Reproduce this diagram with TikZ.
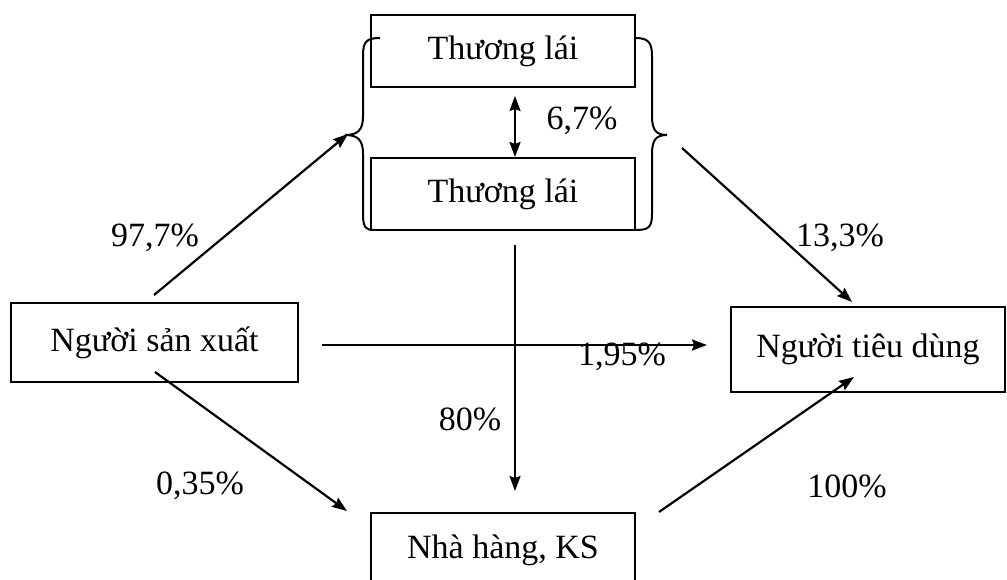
\documentclass[tikz,border=0pt]{standalone}
\usepackage{fontspec}
\setmainfont{Liberation Serif}
\usetikzlibrary{arrows.meta}
\begin{document}
\begin{tikzpicture}[x=1pt,y=-1pt,
  box/.style={draw,line width=2.2pt,inner sep=0pt},
  lbl/.style={inner sep=0pt},
  tip/.style={Stealth[length=15pt,width=11pt,inset=2pt]},
  arr/.style={line width=2.2pt,-{Stealth[length=15pt,width=11pt,inset=2pt]}},
  brc/.style={line width=2pt},
  every node/.style={font=\fontsize{34}{40}\selectfont}]
\useasboundingbox (0,0) rectangle (1007,580);
\begin{scope}
\clip (0,0) rectangle (1007,580);
\node[box,minimum width=287pt,minimum height=79pt] (sx) at (154.5,342.5) {Người sản xuất};
\node[box,minimum width=274pt,minimum height=85pt] (td) at (868,349.5) {Người tiêu dùng};
\node[box,minimum width=264pt,minimum height=72pt] (tl1) at (503,51) {Thương lái};
\node[box,minimum width=264pt,minimum height=72pt] (tl2) at (503,194) {Thương lái};
\node[box,minimum width=264pt,minimum height=74pt] (nh) at (503,550) {Nhà hàng, KS};
\end{scope}
% braces
\draw[brc] (380,38) .. controls (366,38) and (363,42) .. (363,56) -- (363,116)
  .. controls (363,130) and (358,135) .. (345,135)
  .. controls (358,135) and (363,140) .. (363,154) -- (363,214)
  .. controls (363,228) and (366,230) .. (374,230);
\draw[brc] (635,38) .. controls (648,38) and (652,42) .. (652,56) -- (652,116)
  .. controls (652,130) and (656,135) .. (667,135)
  .. controls (656,135) and (652,140) .. (652,154) -- (652,214)
  .. controls (652,228) and (648,230) .. (635,230);
\coordinate (lb) at (348,134);
\coordinate (rb) at (682,148);
% connectors
\coordinate (a1) at (154,295);
\draw[arr] (a1) -- (lb);
\coordinate (a2) at (852,302);
\draw[arr] (rb) -- (a2);
\coordinate (d1) at (515,96);
\coordinate (d2) at (515,157);
\draw[line width=2.2pt,{Stealth[length=15pt,width=11pt,inset=2pt]}-{Stealth[length=15pt,width=11pt,inset=2pt]}] (d1) -- (d2);
\coordinate (h1) at (322,345);
\coordinate (h2) at (707,345);
\draw[arr] (h1) -- (h2);
\coordinate (v1) at (515,245);
\coordinate (v2) at (515,491);
\draw[arr] (v1) -- (v2);
\coordinate (b1) at (155,372);
\coordinate (b2) at (347,511);
\draw[arr] (b1) -- (b2);
\coordinate (c1) at (659,512);
\coordinate (c2) at (854,377);
\draw[arr] (c1) -- (c2);
% labels
\node[lbl] (l1) at (155,238) {97,7\%};
\node[lbl] (l2) at (840,238) {13,3\%};
\node[lbl] (l3) at (582,121) {6,7\%};
\node[lbl] (l4) at (622,357) {1,95\%};
\node[lbl] (l5) at (470,419) {80\%};
\node[lbl] (l6) at (200,486) {0,35\%};
\node[lbl] (l7) at (847,486) {100\%};
\end{tikzpicture}
\end{document}
